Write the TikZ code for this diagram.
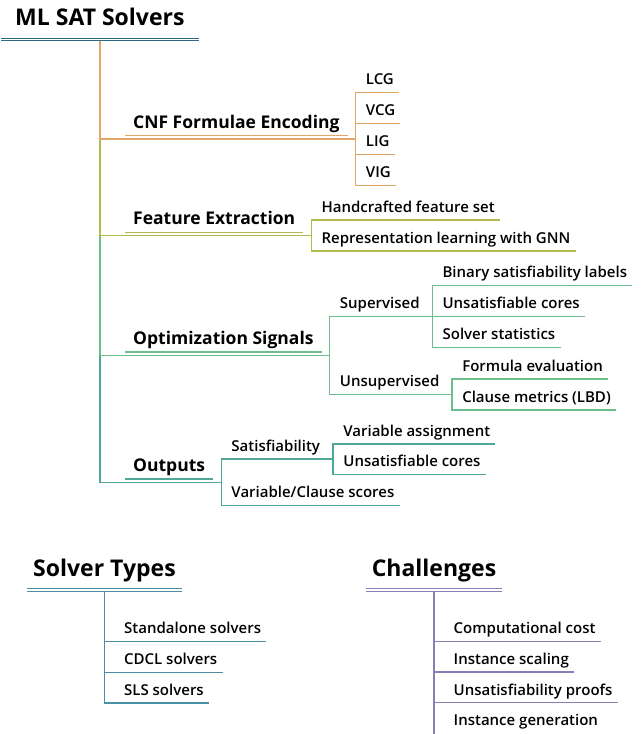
\documentclass[tikz,border=0pt]{standalone}
\usepackage{fontspec}
\setmainfont{Open Sans}
\newfontfamily\leaffont{Open Sans Semibold}
\usetikzlibrary{calc}

\definecolor{rootc}{HTML}{2B6A82}
\definecolor{encc}{HTML}{E3A66A}
\definecolor{featc}{HTML}{B3BB4C}
\definecolor{optc}{HTML}{6DBE8C}
\definecolor{outc}{HTML}{4FA897}
\definecolor{typec}{HTML}{4A8FA3}
\definecolor{chalc}{HTML}{8581B8}

\begin{document}
\begin{tikzpicture}[x=1pt, y=-1pt,
    head/.style={font=\bfseries\fontsize{23}{28}\selectfont, anchor=south west,
        inner xsep=6pt, inner ysep=8.5pt, text height=17pt, text depth=5pt},
    topic/.style={font=\bfseries\fontsize{17.5}{21}\selectfont, anchor=south west,
        inner xsep=8pt, inner ysep=3.4pt, text height=13pt, text depth=4pt},
    leaf/.style={font=\leaffont\fontsize{15}{18}\selectfont, anchor=south west,
        inner xsep=5pt, inner ysep=4pt, text height=11pt, text depth=3.5pt},
    rule/.style={double=white, double distance=1.1pt, line width=1.3pt},
    link/.style={line width=1.4pt}]
    \useasboundingbox (0,0) rectangle (643,734);

    % Root
    \node[head, inner xsep=14pt] (root) at (1,39.5) {ML SAT Solvers};

    % Main topics
    \node[topic] (enc) at (125,135.7) {CNF Formulae Encoding};
    \node[topic] (feat) at (125,232.3) {Feature Extraction};
    \node[topic] (opt) at (125,352) {Optimization Signals};
    \node[topic] (out) at (125,479) {Outputs};
    \foreach \t in {enc, feat, opt, out}
        \coordinate (\t-fork) at ([shift={(8,3.3)}]\t.south east);

    % Trunk, last branch first
    \draw[link, outc] (root.south) |- (out-fork);
    \draw[link, optc] (root.south) |- (opt-fork);
    \draw[link, featc] (root.south) |- (feat-fork);
    \draw[link, encc] (root.south) |- (enc-fork);
    \draw[link, encc] (enc.south west) -- (enc.south east);
    \draw[link, featc] (feat.south west) -- (feat.south east);
    \draw[link, optc] (opt.south west) -- (opt.south east);
    \draw[link, outc] (out.south west) -- (out.south east);
    \draw[rule, rootc] (root.south west) -- (root.south east);

    % CNF Formulae Encoding
    \foreach \name/\txt [count=\i] in {lcg/LCG, vcg/VCG, lig/LIG, vig/VIG} {
        \node[leaf] (\name) at ($(enc-fork)+(5,{(\i-2.5)*31})$) {\txt};
        \draw[link, encc] (enc-fork) |- (\name.south east);
    }

    % Feature Extraction
    \foreach \name/\txt [count=\i] in {hand/Handcrafted feature set,
        gnn/Representation learning with GNN} {
        \node[leaf] (\name) at ($(feat-fork)+(5,{(\i-1.5)*31})$) {\txt};
        \draw[link, featc] (feat-fork) |- (\name.south east);
    }

    % Optimization Signals
    \node[leaf] (sup) at ($(opt-fork)+(5,-39)$) {Supervised};
    \node[leaf] (unsup) at ($(opt-fork)+(5,39)$) {Unsupervised};
    \coordinate (sup-fork) at ([xshift=7.5pt]sup.south east);
    \coordinate (unsup-fork) at ([xshift=7.5pt]unsup.south east);
    \draw[link, optc] (opt-fork) |- (sup-fork);
    \draw[link, optc] (opt-fork) |- (unsup-fork);
    \foreach \name/\txt [count=\i] in {bin/Binary satisfiability labels,
        core/Unsatisfiable cores, stat/Solver statistics} {
        \node[leaf] (\name) at ($(sup-fork)+(5,{(\i-2)*31})$) {\txt};
        \draw[link, optc] (sup-fork) |- (\name.south east);
    }
    \foreach \name/\txt [count=\i] in {eval/Formula evaluation,
        lbd/Clause metrics (LBD)} {
        \node[leaf] (\name) at ($(unsup-fork)+(5,{(\i-1.5)*31})$) {\txt};
        \draw[link, optc] (unsup-fork) |- (\name.south east);
    }

    % Outputs
    \node[leaf] (sat) at ($(out-fork)+(5,-23.2)$) {Satisfiability};
    \node[leaf] (score) at ($(out-fork)+(5,23.2)$) {Variable/Clause scores};
    \coordinate (sat-fork) at ([xshift=8pt]sat.south east);
    \draw[link, outc] (out-fork) |- (sat-fork);
    \draw[link, outc] (out-fork) |- (score.south east);
    \foreach \name/\txt [count=\i] in {assign/Variable assignment,
        ucore/Unsatisfiable cores} {
        \node[leaf] (\name) at ($(sat-fork)+(5,{(\i-1.5)*30.5})$) {\txt};
        \draw[link, outc] (sat-fork) |- (\name.south east);
    }

    % Solver Types
    \node[head] (types) at (27,590) {Solver Types};
    \foreach \name/\txt [count=\i] in {alone/Standalone solvers,
        cdcl/CDCL solvers, sls/SLS solvers} {
        \node[leaf] (\name) at ($(types.south)+(14.5,{20.9+\i*30.7})$) {\txt};
        \draw[link, typec] (types.south) |- (\name.south east);
    }
    \draw[rule, typec] (types.south west) -- (types.south east);

    % Challenges
    \node[head] (chal) at (365.6,590) {Challenges};
    \foreach \name/\txt [count=\i] in {cost/Computational cost,
        scale/Instance scaling, proof/Unsatisfiability proofs} {
        \node[leaf] (\name) at ($(chal.south)+(14.5,{20.6+\i*30.7})$) {\txt};
        \draw[link, chalc] (chal.south) |- (\name.south east);
    }
    \node[leaf] (gen) at ($(chal.south)+(14.5,143.4)$) {Instance generation};
    \coordinate (chal-end) at ($(chal.south)+(0,144)$);
    \draw[link, chalc] (chal.south) -- (chal-end);
    \draw[rule, chalc] (chal.south west) -- (chal.south east);
\end{tikzpicture}
\end{document}
